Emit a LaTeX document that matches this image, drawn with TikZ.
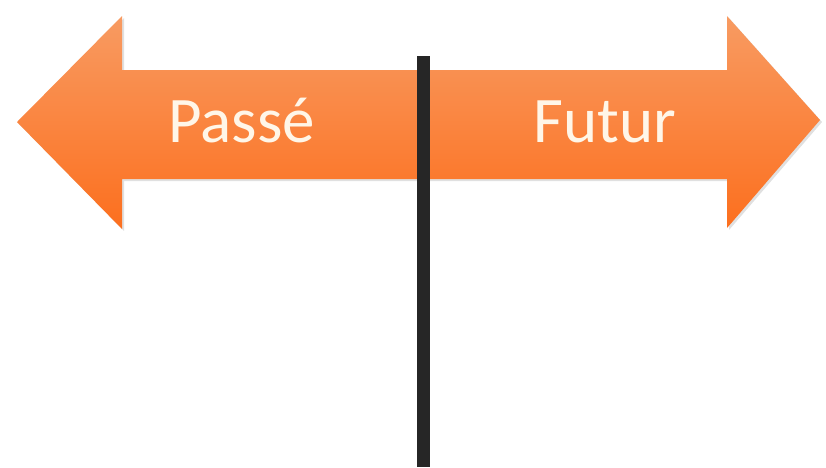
\documentclass[tikz,border=0pt]{standalone}
\usepackage{fontspec}
\setmainfont{Carlito}
\definecolor{orTop}{HTML}{F89B62}
\definecolor{orBot}{HTML}{FC6F1E}
\definecolor{txtcol}{HTML}{FFF6E8}
\definecolor{barcol}{HTML}{262626}
\tikzset{
  arrowshape/.style={top color=orTop, bottom color=orBot, draw=none},
  lbl/.style={text=txtcol, font=\fontsize{65}{70}\selectfont, anchor=base, inner sep=0pt},
  bar/.style={draw=barcol, line width=12.5pt}
}
\begin{document}
\begin{tikzpicture}[x=1pt,y=-1pt]
\useasboundingbox (0,0) rectangle (826,467);
\fill[black!12] (19,124) -- (124,18) -- (124,72) -- (729,72) -- (729,18) -- (822,122) -- (729,230) -- (729,181) -- (124,181) -- (124,231) -- cycle;
\shade[arrowshape] (17,122) -- (122,16) -- (122,70) -- (727,70) -- (727,16) -- (820,120) -- (727,228) -- (727,179) -- (122,179) -- (122,229) -- cycle;
\node[lbl] (passe) at (241.5,142) {Passé};
\node[lbl] (futur) at (605,142) {Futur};
\coordinate (btop) at (423.5,56);
\coordinate (bbot) at (423.5,467);
\draw[bar] (btop) -- (bbot);
\end{tikzpicture}
\end{document}
